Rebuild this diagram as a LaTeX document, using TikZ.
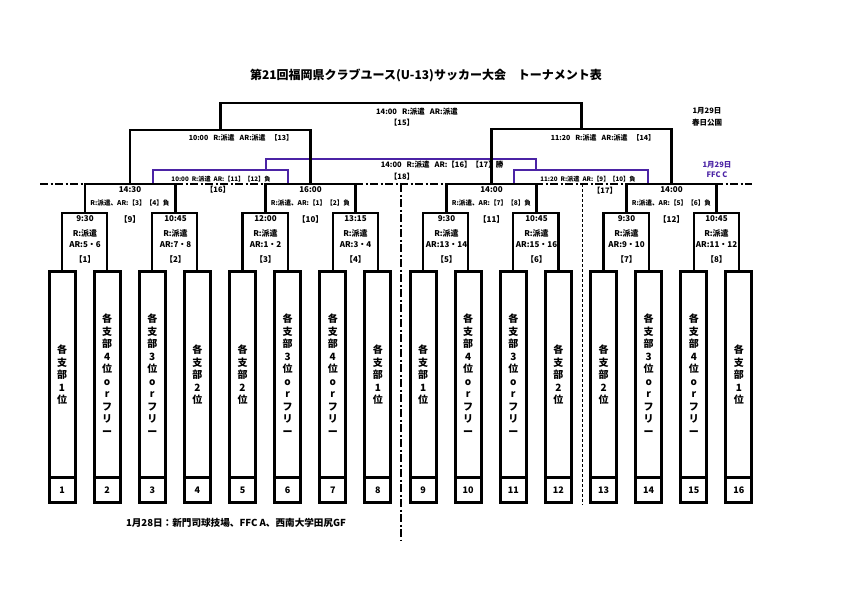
\documentclass[tikz,border=0pt]{standalone}
\usepackage{fontspec}
\setmainfont{Noto Sans CJK JP}
\usetikzlibrary{positioning}
\definecolor{kanji}{RGB}{75,35,165}
\newcommand{\shibu}[1]{各\\支\\部\\#1\\位}
\newcommand{\shibuor}[1]{各\\支\\部\\#1\\位\\o\\r\\フ\\リ\\ー}
\begin{document}
\begin{tikzpicture}[x=1pt,y=-1pt,
  team/.style={draw,line width=3pt,outer sep=0pt,inner sep=0pt,minimum width=26pt,minimum height=206pt,align=center,font=\bfseries\fontsize{10}{12.5}\selectfont},
  num/.style={draw,line width=3pt,outer sep=0pt,inner sep=0pt,minimum width=26pt,minimum height=25pt,font=\bfseries\fontsize{9}{10}\selectfont},
  bracket/.style={line width=2.2pt},
  consol/.style={line width=2pt,draw=kanji},
  lab/.style={inner sep=0pt,align=center,font=\bfseries\fontsize{7.5}{11}\selectfont},
  small/.style={inner sep=0pt,font=\bfseries\fontsize{7}{8}\selectfont},
  dashdot/.style={line width=2pt,dash pattern=on 8pt off 2.5pt on 2pt off 2.5pt}]
  \useasboundingbox (0,0) rectangle (842,595);
  \node[font=\bfseries\fontsize{12}{14}\selectfont] (title) at (426,75) {第21回福岡県クラブユース(U-13)サッカー大会\quad トーナメント表};
  \foreach \i/\lab in {1/\shibu{1},2/\shibuor{4},3/\shibuor{3},4/\shibu{2},5/\shibu{2},6/\shibuor{3},7/\shibuor{4},8/\shibu{1},9/\shibu{1},10/\shibuor{4},11/\shibuor{3},12/\shibu{2},13/\shibu{2},14/\shibuor{3},15/\shibuor{4},16/\shibu{1}}{
    \node[team] (t\i) at ({62+45.13*(\i-1)},374.75) {\lab};
    \node[num,below=0pt of t\i] (n\i) {\i};
  }
  \coordinate (dl) at (40,184);
  \coordinate (dr) at (752,184);
  \coordinate (va) at (401,184);
  \coordinate (vb) at (401,540);
  \coordinate (wa) at (582,184);
  \coordinate (wb) at (582,505);
  \draw[dashdot] (dl) -- (dr);
  \draw[dashdot] (va) -- (vb);
  \draw[line width=0.8pt,dash pattern=on 3pt off 2pt] (wa) -- (wb);
  \foreach \m/\x/\t/\ar in {1/85/9:30/5・6,2/175.5/10:45/7・8,3/265.5/12:00/1・2,4/355.5/13:15/3・4,5/446.5/9:30/13・14,6/536.5/10:45/15・16,7/626.5/9:30/9・10,8/716.5/10:45/11・12}{
    \coordinate (m\m) at (\x,213);
    \node[lab,font=\bfseries\fontsize{8}{11}\selectfont] (l\m) at (\x,239.5) {\t\\[4pt]R:派遣\\AR:\ar\\[4pt]【\m】};
  }
  \coordinate (m9) at (130,184);
  \coordinate (m10) at (310.5,184);
  \coordinate (m11) at (491.5,184);
  \coordinate (m12) at (671.5,184);
  \coordinate (m13) at (220.5,130);
  \coordinate (m14) at (581.5,129);
  \coordinate (m15) at (401,103);
  \foreach \m/\t/\a/\b in {9/14:30/3/4,10/16:00/1/2,11/14:00/7/8,12/14:00/5/6}{
    \node[lab,font=\bfseries\fontsize{8}{13}\selectfont] (l\m) at ([yshift=-12.5pt]m\m) {\t\\{\fontsize{6.6}{13}\selectfont R:派遣、AR:【\a】【\b】負}};
    \node[lab,font=\bfseries\fontsize{8}{10}\selectfont] (k\m) at ([yshift=-35pt]m\m) {【\m】};
  }
  \coordinate (p9) at (153,184);
  \coordinate (p10) at (288,184);
  \coordinate (c16) at (220.5,170);
  \coordinate (p11) at (514,184);
  \coordinate (p12) at (648,184);
  \coordinate (c17) at (581,170);
  \coordinate (q16) at (266,170);
  \coordinate (q17) at (536,170);
  \coordinate (c18) at (401,159);
  \draw[consol] (p9) |- (c16) -| (p10);
  \draw[consol] (p11) |- (c17) -| (p12);
  \draw[consol] (q16) |- (c18) -| (q17);
  \draw[bracket] (t1.north) |- (m1) -| (t2.north);
  \draw[bracket] (t3.north) |- (m2) -| (t4.north);
  \draw[bracket] (t5.north) |- (m3) -| (t6.north);
  \draw[bracket] (t7.north) |- (m4) -| (t8.north);
  \draw[bracket] (t9.north) |- (m5) -| (t10.north);
  \draw[bracket] (t11.north) |- (m6) -| (t12.north);
  \draw[bracket] (t13.north) |- (m7) -| (t14.north);
  \draw[bracket] (t15.north) |- (m8) -| (t16.north);
  \draw[bracket] (m1) |- (m9) -| (m2);
  \draw[bracket] (m3) |- (m10) -| (m4);
  \draw[bracket] (m5) |- (m11) -| (m6);
  \draw[bracket] (m7) |- (m12) -| (m8);
  \draw[bracket] (m9) |- (m13) -| (m10);
  \draw[bracket] (m11) |- (m14) -| (m12);
  \draw[bracket] (m13) |- (m15) -| (m14);
  \node[small] (l13) at (241,138) {10:00\hspace{5pt}R:派遣\hspace{5pt}AR:派遣\hspace{5pt}【13】};
  \node[small] (l14) at (603,138) {11:20\hspace{5pt}R:派遣\hspace{5pt}AR:派遣\hspace{5pt}【14】};
  \node[lab] (l15) at (417,112) {14:00\hspace{5pt}R:派遣\hspace{5pt}AR:派遣};
  \node[lab] (k15) at (402,123) {【15】};
  \node[small,font=\bfseries\fontsize{6.2}{8}\selectfont] (l16) at (221,179) {10:00\hspace{3pt}R:派遣\hspace{3pt}AR:【11】【12】負};
  \node[lab] (k16) at (218,190) {【16】};
  \node[small,font=\bfseries\fontsize{6.2}{8}\selectfont] (l17) at (588,179) {11:20\hspace{3pt}R:派遣\hspace{3pt}AR:【9】【10】負};
  \node[lab] (k17) at (605,191) {【17】};
  \node[lab] (l18) at (442,165) {14:00\hspace{5pt}R:派遣\hspace{5pt}AR:【16】【17】勝};
  \node[lab] (k18) at (402,177) {【18】};
  \node[lab,font=\bfseries\fontsize{7.5}{12}\selectfont] (d1) at (707,117) {1月29日\\春日公園};
  \node[lab,text=kanji,font=\bfseries\fontsize{7.5}{10}\selectfont] (d2) at (717,170) {1月29日\\FFC C};
  \node[lab,font=\bfseries\fontsize{9.6}{11}\selectfont] (venue) at (236,523) {1月28日：新門司球技場、FFC A、西南大学田尻GF};
\end{tikzpicture}
\end{document}
